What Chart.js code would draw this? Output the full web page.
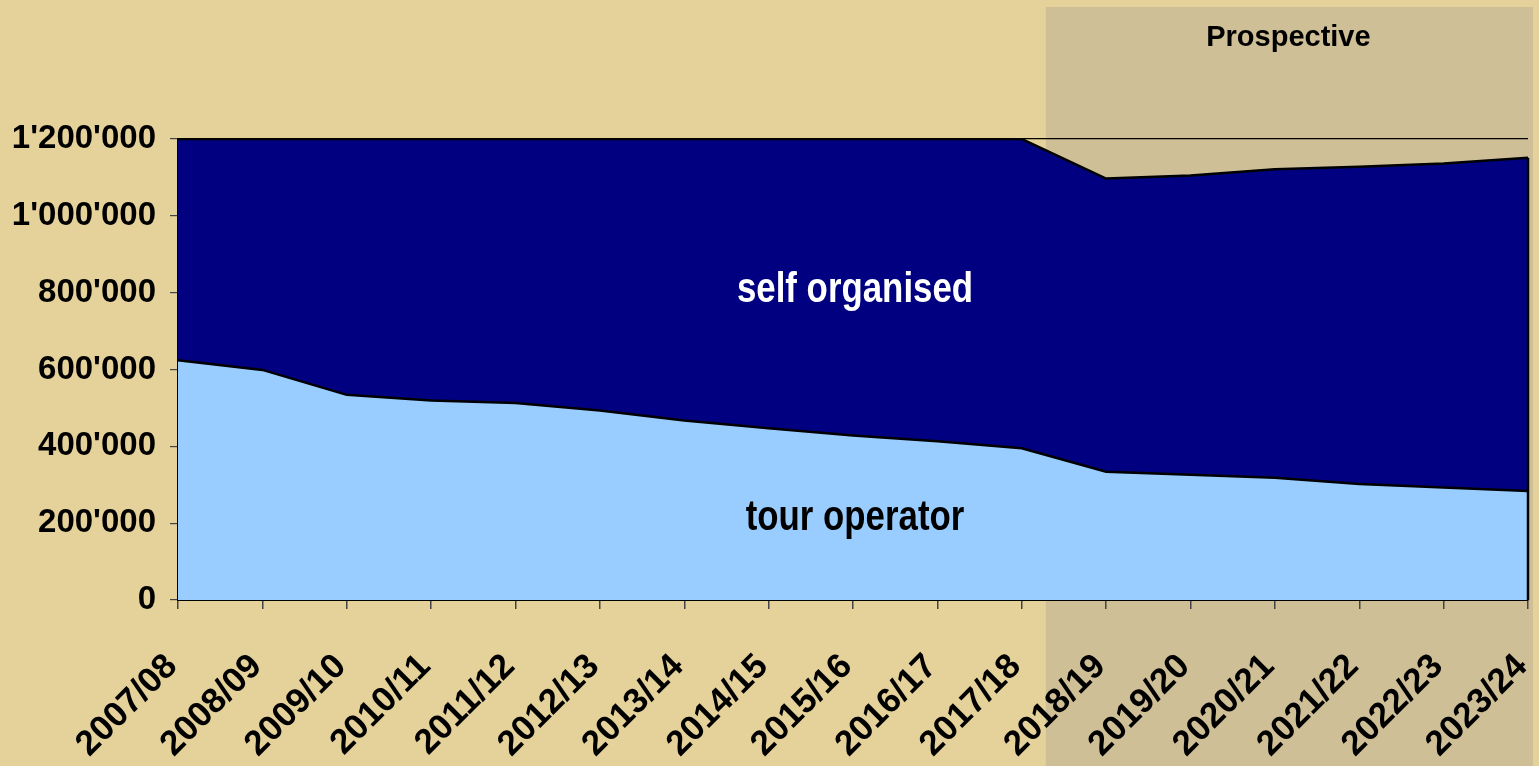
<!DOCTYPE html>
<html>
<head>
<meta charset="utf-8">
<script src="https://cdn.jsdelivr.net/npm/chart.js@4.4.1/dist/chart.umd.min.js"></script>
<style>
html,body{margin:0;padding:0;background:#E5D19A;overflow:hidden}
#wrap{width:1539px;height:766px;position:relative}
canvas{display:block}
</style>
</head>
<body>
<div id="wrap"><canvas id="c" width="1539" height="766"></canvas></div>
<script>
// ---- data ----
const categories = ['2007/08','2008/09','2009/10','2010/11','2011/12','2012/13','2013/14','2014/15','2015/16','2016/17','2017/18','2018/19','2019/20','2020/21','2021/22','2022/23','2023/24'];
const tourOperator = [624000, 599000, 534000, 519000, 513000, 493000, 467000, 447000, 428000, 413000, 395000, 334000, 326000, 318000, 302000, 293000, 284000];
const selfOrganised = [576000, 601000, 666000, 681000, 687000, 707000, 733000, 753000, 772000, 787000, 805000, 763000, 779000, 803000, 826000, 843000, 867000];
const yTickLabels = ["0", "200'000", "400'000", "600'000", "800'000", "1'000'000", "1'200'000"];
const seriesNames = ['tour operator', 'self organised'];
const prospectiveLabel = 'Prospective';
const prospectiveStartIndex = 10; // shaded region begins after 2017/18

const FONT = "'Liberation Sans', Arial, sans-serif";

const bgPlugin = {
  id: 'bgPlugin',
  beforeDraw(chart) {
    const {ctx, chartArea, scales} = chart;
    ctx.save();
    ctx.fillStyle = '#E5D19A';
    ctx.fillRect(0, 0, chart.width, chart.height);
    const x0 = scales.x.getPixelForValue(prospectiveStartIndex);
    const x1 = scales.x.getPixelForValue(prospectiveStartIndex + 1);
    const left = x0 + (x1 - x0) * 0.285;
    const right = chartArea.right + 5;
    ctx.fillStyle = '#CFBF97';
    ctx.fillRect(left, 7, right - left, chart.height - 7);
    ctx.fillStyle = '#000';
    ctx.font = "bold 29px " + FONT;
    ctx.textAlign = 'center';
    ctx.textBaseline = 'alphabetic';
    ctx.fillText(prospectiveLabel, (left + right) / 2 - 1, 46);
    ctx.restore();
  }
};

const areaLabels = {
  id: 'areaLabels',
  afterDatasetsDraw(chart) {
    const {ctx, scales} = chart;
    // right edge of the stacked area
    const last = categories.length - 1;
    const ex = scales.x.getPixelForValue(last);
    ctx.save();
    ctx.strokeStyle = '#000';
    ctx.lineWidth = 2.5;
    ctx.beginPath();
    ctx.moveTo(ex, scales.y.getPixelForValue(tourOperator[last] + selfOrganised[last]));
    ctx.lineTo(ex, scales.y.getPixelForValue(0));
    ctx.stroke();
    ctx.restore();

    const cx = scales.x.getPixelForValue(8) + 2;
    const items = [
      {text: seriesNames[1], y: scales.y.getPixelForValue(775000), color: '#FFFFFF'},
      {text: seriesNames[0], y: scales.y.getPixelForValue(182000), color: '#000000'}
    ];
    ctx.save();
    ctx.font = "bold 43px " + FONT;
    ctx.textAlign = 'center';
    ctx.textBaseline = 'alphabetic';
    items.forEach(it => {
      ctx.save();
      ctx.translate(cx, it.y);
      ctx.scale(0.81, 1);
      ctx.fillStyle = it.color;
      ctx.fillText(it.text, 0, 0);
      ctx.restore();
    });
    ctx.restore();
  }
};

new Chart(document.getElementById('c'), {
  type: 'line',
  data: {
    labels: categories,
    datasets: [
      {
        label: seriesNames[0],
        data: tourOperator,
        backgroundColor: '#99CCFF',
        borderColor: '#000000',
        borderWidth: 2.5,
        fill: 'origin',
        pointRadius: 0,
        tension: 0
      },
      {
        label: seriesNames[1],
        data: selfOrganised,
        backgroundColor: '#000080',
        borderColor: '#000000',
        borderWidth: 2.5,
        fill: '-1',
        pointRadius: 0,
        tension: 0
      }
    ]
  },
  options: {
    responsive: false,
    devicePixelRatio: 1,
    animation: false,
    layout: {padding: {top: 139, right: 11, left: 0, bottom: 0}},
    plugins: {legend: {display: false}, tooltip: {enabled: false}},
    scales: {
      x: {
        offset: false,
        grid: {drawOnChartArea: false, tickLength: 9, tickColor: '#444', lineWidth: 1.5},
        border: {color: '#000', width: 2},
        ticks: {
          autoSkip: false, minRotation: 45, maxRotation: 45,
          padding: 37, labelOffset: -6, color: '#000',
          font: {family: FONT, size: 35, weight: 'bold'}
        },
        afterFit(s) { s.height = 166; s.paddingLeft = 0; s.paddingRight = 0; }
      },
      y: {
        stacked: true,
        min: 0, max: 1200000,
        grid: {
          color: c => (c.tick && c.tick.value === 1200000) ? '#000' : 'rgba(0,0,0,0)',
          tickColor: '#444', tickLength: 8, lineWidth: 1.2
        },
        border: {color: '#000', width: 2},
        ticks: {
          stepSize: 200000, padding: 14, color: '#000',
          font: {family: FONT, size: 33, weight: 'bold'},
          callback: (v, i) => yTickLabels[i]
        },
        afterFit(s) { s.width = 178; s.paddingTop = 0; s.paddingBottom = 0; }
      }
    }
  },
  plugins: [bgPlugin, areaLabels]
});
</script>
</body>
</html>
